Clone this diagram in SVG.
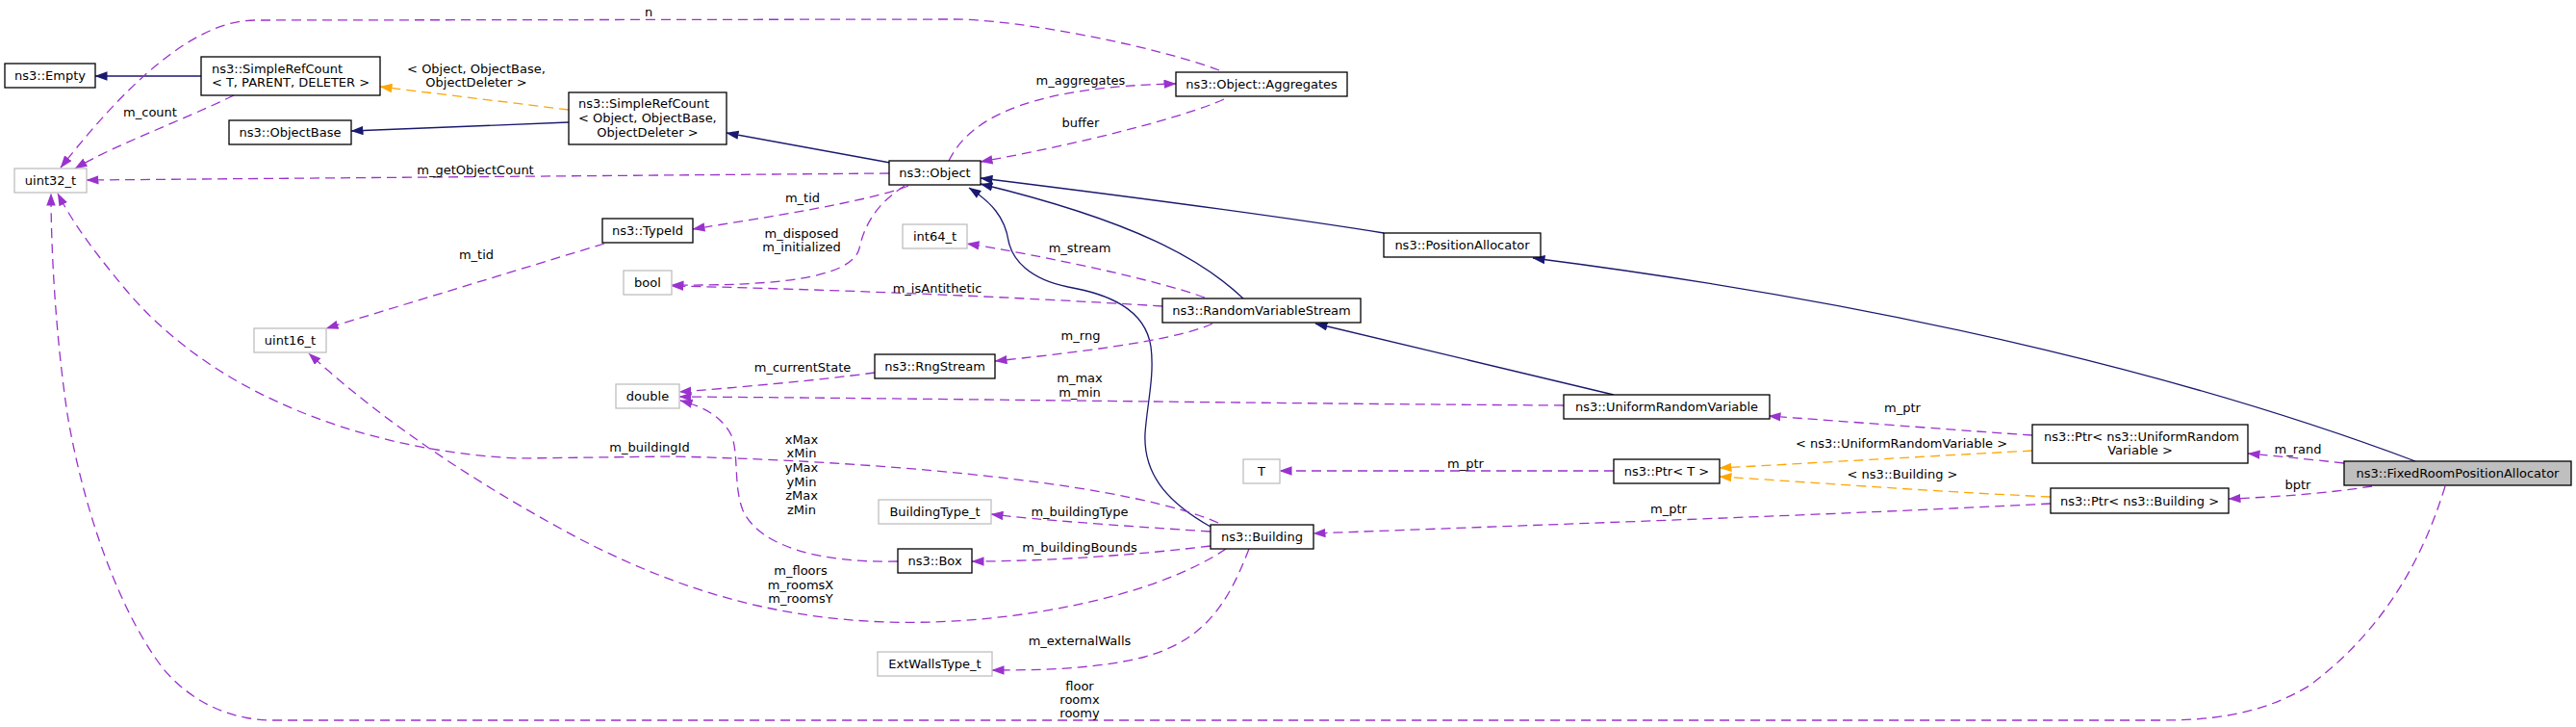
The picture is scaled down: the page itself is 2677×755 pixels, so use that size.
<svg xmlns="http://www.w3.org/2000/svg" width="2677" height="755" viewBox="0 0 2677 755">
<style>
text{font-family:"DejaVu Sans","Liberation Sans",sans-serif;font-size:13px;fill:#000}
.m{text-anchor:middle}
.node rect{fill:#fff;stroke:#000;stroke-width:1.3}
.node.g rect{stroke:#bfbfbf}
.node.cur rect{fill:#bfbfbf}
.e{fill:none;stroke-width:1.3}
.inh{stroke:#191970;marker-end:url(#aN)}
.use{stroke:#9a32cd;stroke-dasharray:10,6;marker-end:url(#aP)}
.tpl{stroke:#ffa500;stroke-dasharray:10,6;marker-end:url(#aO)}
</style>
<defs>
<marker id="aN" viewBox="0 0 13 9.4" refX="12.5" refY="4.7" markerWidth="13" markerHeight="9.4" markerUnits="userSpaceOnUse" orient="auto"><path d="M0,0 L13,4.7 L0,9.4 z" fill="#191970"/></marker>
<marker id="aP" viewBox="0 0 13 9.4" refX="12.5" refY="4.7" markerWidth="13" markerHeight="9.4" markerUnits="userSpaceOnUse" orient="auto"><path d="M0,0 L13,4.7 L0,9.4 z" fill="#9a32cd"/></marker>
<marker id="aO" viewBox="0 0 13 9.4" refX="12.5" refY="4.7" markerWidth="13" markerHeight="9.4" markerUnits="userSpaceOnUse" orient="auto"><path d="M0,0 L13,4.7 L0,9.4 z" fill="#ffa500"/></marker>
</defs>
<rect width="2677" height="755" fill="#fff"/>
<g id="connectors">
<path class="e inh" d="M209,79 L99,79"/>
<path class="e tpl" d="M591,114 L395,90"/>
<text class="m" x="495" y="75.5">&lt; Object, ObjectBase,</text>
<text class="m" x="495" y="90">ObjectDeleter &gt;</text>
<path class="e inh" d="M591,127 L365,136"/>
<path class="e inh" d="M925,169 L755,138"/>
<path class="e use" d="M243,99 C190,125 120,150 78,175"/>
<text class="m" x="156" y="120.5">m_count</text>
<path class="e use" d="M1267,73 C1200,48 1060,20 990,20 L265,21 C190,21 110,115 63,174"/>
<text class="m" x="674" y="16.5">n</text>
<path class="e use" d="M924,180 L90,187"/>
<text class="m" x="494" y="180.5">m_getObjectCount</text>
<path class="e use" d="M986,167 C1010,118 1080,90 1222,87"/>
<text class="m" x="1123" y="87.5">m_aggregates</text>
<path class="e use" d="M1272,103 C1230,122 1120,150 1019,168"/>
<text class="m" x="1123" y="131.5">buffer</text>
<path class="e use" d="M944,193 C900,210 800,225 720,238"/>
<text class="m" x="834" y="209.5">m_tid</text>
<path class="e use" d="M940,193 C910,212 898,235 893,258 C885,290 800,297 698,296"/>
<text class="m" x="833" y="246.5">m_disposed</text>
<text class="m" x="833" y="260.5">m_initialized</text>
<path class="e use" d="M628,253 L339,341"/>
<text class="m" x="495" y="268.5">m_tid</text>
<path class="e inh" d="M1292,310 C1250,270 1180,230 1019,191"/>
<path class="e inh" d="M1677,410 L1367,336"/>
<path class="e inh" d="M1258,547 C1210,520 1188,490 1190,450 C1192,420 1200,390 1196,360 C1190,320 1150,305 1110,298 C1070,290 1052,270 1048,250 C1044,225 1030,210 1007,195"/>
<path class="e inh" d="M1438,242 C1300,220 1100,195 1019,185"/>
<path class="e inh" d="M2510,479 C2300,400 2000,320 1593,268"/>
<path class="e use" d="M1252,309 C1200,290 1080,265 1005,253"/>
<text class="m" x="1122" y="261.5">m_stream</text>
<path class="e use" d="M1208,318 C1050,308 850,300 698,297"/>
<text class="m" x="974" y="303.5">m_isAntithetic</text>
<path class="e use" d="M1260,336 C1220,355 1100,368 1034,375"/>
<text class="m" x="1123" y="352.5">m_rng</text>
<path class="e use" d="M909,387 C850,395 760,403 706,407"/>
<text class="m" x="834" y="385.5">m_currentState</text>
<path class="e use" d="M1625,421 C1300,419 1000,414 706,412"/>
<text class="m" x="1122" y="396.5">m_max</text>
<text class="m" x="1122" y="411.5">m_min</text>
<path class="e use" d="M2112,452 C2050,448 1950,440 1838,432"/>
<text class="m" x="1977" y="427.5">m_ptr</text>
<path class="e tpl" d="M2112,468 C2000,474 1900,480 1787,486"/>
<text class="m" x="1976" y="464.5">&lt; ns3::UniformRandomVariable &gt;</text>
<path class="e tpl" d="M2131,516 C2000,510 1900,502 1787,495"/>
<text class="m" x="1977" y="496.5">&lt; ns3::Building &gt;</text>
<path class="e use" d="M2436,481 C2400,477 2370,474 2336,471"/>
<text class="m" x="2388" y="470.5">m_rand</text>
<path class="e use" d="M2465,505 C2420,512 2370,516 2316,518"/>
<text class="m" x="2388" y="507.5">bptr</text>
<path class="e use" d="M1677,489 L1330,489"/>
<text class="m" x="1523" y="485.5">m_ptr</text>
<path class="e use" d="M2131,523 C1900,535 1600,545 1365,554"/>
<text class="m" x="1734" y="532.5">m_ptr</text>
<path class="e use" d="M1266,543 C1180,505 950,480 700,474 L540,476 C400,470 230,420 130,300 C95,258 75,230 60,201"/>
<text class="m" x="675" y="468.5">m_buildingId</text>
<path class="e use" d="M1274,570 C1200,620 1050,650 921,646 C800,642 700,610 603,560 C500,505 400,440 321,367"/>
<text class="m" x="832" y="596.5">m_floors</text>
<text class="m" x="832" y="611.5">m_roomsX</text>
<text class="m" x="832" y="625.5">m_roomsY</text>
<path class="e use" d="M933,583 C860,585 790,570 772,530 C762,505 768,470 760,452 C750,432 730,422 707,416"/>
<text class="m" x="833" y="460.5">xMax</text>
<text class="m" x="833" y="474.5">xMin</text>
<text class="m" x="833" y="489.5">yMax</text>
<text class="m" x="833" y="504.5">yMin</text>
<text class="m" x="833" y="518.5">zMax</text>
<text class="m" x="833" y="533.5">zMin</text>
<path class="e use" d="M1258,552 C1150,545 1080,540 1030,534"/>
<text class="m" x="1122" y="535.5">m_buildingType</text>
<path class="e use" d="M1258,567 C1150,580 1060,583 1010,583"/>
<text class="m" x="1122" y="572.5">m_buildingBounds</text>
<path class="e use" d="M1298,570 C1275,630 1250,665 1190,682 C1140,695 1080,696 1031,696"/>
<text class="m" x="1122" y="669.5">m_externalWalls</text>
<path class="e use" d="M2541,505 C2515,590 2470,660 2400,712 C2350,742 2300,748 2244,748 L285,748 C240,748 200,730 170,695 C120,630 85,520 70,430 C58,350 53,260 53,201"/>
<text class="m" x="1122" y="716.5">floor</text>
<text class="m" x="1122" y="731">roomx</text>
<text class="m" x="1122" y="745">roomy</text>
</g>
<g id="n_empty" class="node"><rect x="5" y="66" width="94" height="25"/><text class="m" x="52" y="83">ns3::Empty</text></g>
<g id="n_srct" class="node"><rect x="209" y="59" width="186" height="40"/><text x="220" y="75.5">ns3::SimpleRefCount</text><text class="m" x="302" y="90">&lt; T, PARENT, DELETER &gt;</text></g>
<g id="n_objectbase" class="node"><rect x="238" y="125" width="127" height="25"/><text class="m" x="301.5" y="142">ns3::ObjectBase</text></g>
<g id="n_srcobj" class="node"><rect x="591" y="96" width="164" height="54"/><text x="601" y="111.5">ns3::SimpleRefCount</text><text x="601" y="126.5">&lt; Object, ObjectBase,</text><text class="m" x="673" y="141.5">ObjectDeleter &gt;</text></g>
<g id="n_aggregates" class="node"><rect x="1222" y="75" width="178" height="25"/><text class="m" x="1311" y="92">ns3::Object::Aggregates</text></g>
<g id="n_object" class="node"><rect x="924" y="167" width="95" height="25"/><text class="m" x="971.5" y="184">ns3::Object</text></g>
<g id="n_uint32" class="node g"><rect x="15" y="175" width="75" height="25"/><text class="m" x="52.5" y="192">uint32_t</text></g>
<g id="n_typeid" class="node"><rect x="626" y="227" width="94" height="25"/><text class="m" x="673" y="244">ns3::TypeId</text></g>
<g id="n_bool" class="node g"><rect x="648" y="281" width="50" height="25"/><text class="m" x="673" y="298">bool</text></g>
<g id="n_int64" class="node g"><rect x="938" y="233" width="67" height="25"/><text class="m" x="971.5" y="250">int64_t</text></g>
<g id="n_uint16" class="node g"><rect x="264" y="341" width="75" height="25"/><text class="m" x="301.5" y="358">uint16_t</text></g>
<g id="n_posalloc" class="node"><rect x="1438" y="242" width="163" height="25"/><text class="m" x="1519.5" y="259">ns3::PositionAllocator</text></g>
<g id="n_rvs" class="node"><rect x="1208" y="310" width="206" height="25"/><text class="m" x="1311" y="327">ns3::RandomVariableStream</text></g>
<g id="n_rngstream" class="node"><rect x="909" y="368" width="125" height="25"/><text class="m" x="971.5" y="385">ns3::RngStream</text></g>
<g id="n_double" class="node g"><rect x="640" y="399" width="66" height="25"/><text class="m" x="673" y="416">double</text></g>
<g id="n_urv" class="node"><rect x="1625" y="410" width="214" height="25"/><text class="m" x="1732" y="427">ns3::UniformRandomVariable</text></g>
<g id="n_ptrurv" class="node"><rect x="2112" y="441" width="224" height="40"/><text x="2124" y="457.5">ns3::Ptr&lt; ns3::UniformRandom</text><text class="m" x="2224" y="472">Variable &gt;</text></g>
<g id="n_fixedroom" class="node cur"><rect x="2436" y="479" width="236" height="25"/><text class="m" x="2554" y="496">ns3::FixedRoomPositionAllocator</text></g>
<g id="n_t" class="node g"><rect x="1292" y="477" width="38" height="25"/><text class="m" x="1311" y="494">T</text></g>
<g id="n_ptrt" class="node"><rect x="1677" y="477" width="110" height="25"/><text class="m" x="1732" y="494">ns3::Ptr&lt; T &gt;</text></g>
<g id="n_ptrbuilding" class="node"><rect x="2131" y="507" width="185" height="26"/><text class="m" x="2223.5" y="524.5">ns3::Ptr&lt; ns3::Building &gt;</text></g>
<g id="n_buildingtype" class="node g"><rect x="913" y="519" width="117" height="25"/><text class="m" x="971.5" y="536">BuildingType_t</text></g>
<g id="n_building" class="node"><rect x="1258" y="545" width="107" height="25"/><text class="m" x="1311.5" y="562">ns3::Building</text></g>
<g id="n_box" class="node"><rect x="933" y="570" width="77" height="25"/><text class="m" x="971.5" y="587">ns3::Box</text></g>
<g id="n_extwalls" class="node g"><rect x="912" y="677" width="119" height="25"/><text class="m" x="971.5" y="694">ExtWallsType_t</text></g>
</svg>
